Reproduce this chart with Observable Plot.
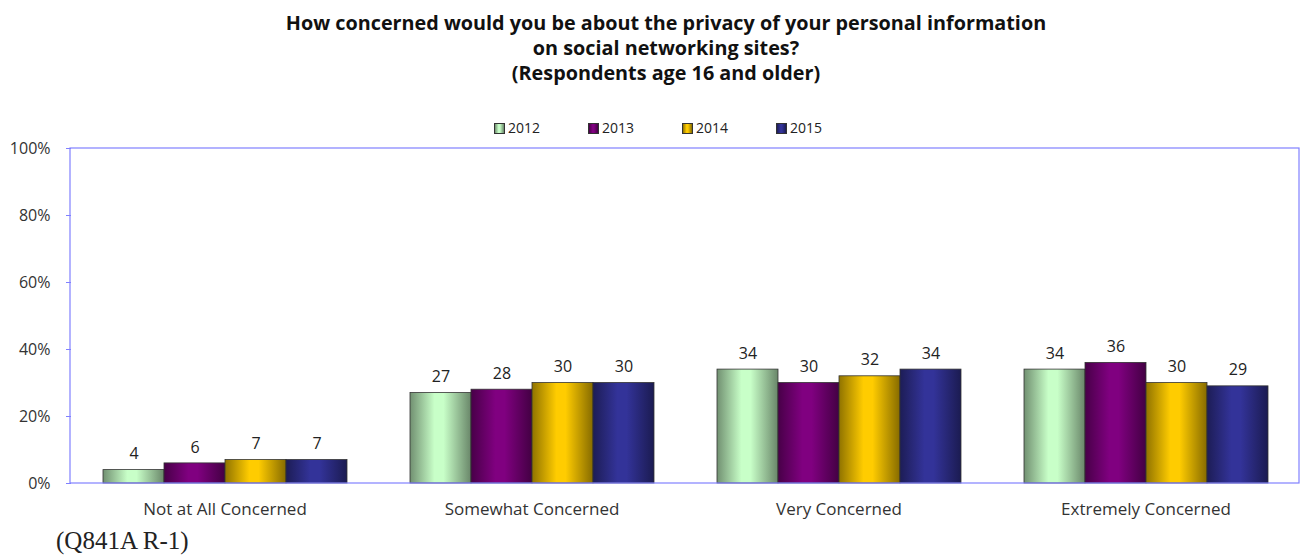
<!DOCTYPE html>
<html>
<head>
<meta charset="utf-8">
<script src="https://cdn.jsdelivr.net/npm/d3@7"></script>
<script src="https://cdn.jsdelivr.net/npm/@observablehq/plot@0.6"></script>
<style>
  html, body { margin: 0; padding: 0; background: #fff; }
  body { width: 1306px; height: 555px; position: relative; overflow: hidden; font-family: "Open Sans", sans-serif; }
  #title { position: absolute; left: 0; top: 10px; width: 1332px; text-align: center; font-weight: bold; font-size: 19.8px; line-height: 25px; color: #111; }
  #legend { position: absolute; left: 494px; top: 118px; display: flex; font-size: 14px; color: #222; line-height: 20px; }
  .item { width: 94px; display: flex; align-items: center; white-space: nowrap; }
  .sw { width: 9px; height: 9px; border: 1px solid #333; margin-right: 3px; flex: none; }
  #chart { position: absolute; left: 0; top: 130px; }
  #foot { position: absolute; left: 56px; top: 528px; font-family: "Liberation Serif", serif; font-size: 25px; line-height: 1; color: #222; white-space: nowrap; }
</style>
</head>
<body>
<div id="title">How concerned would you be about the privacy of your personal information<br>on social networking sites?<br>(Respondents age 16 and older)</div>
<div id="legend"></div>
<div id="chart"></div>
<div id="foot">(Q841A R-1)</div>
<script>
const categories = ["Not at All Concerned", "Somewhat Concerned", "Very Concerned", "Extremely Concerned"];
const years = ["2012", "2013", "2014", "2015"];
const values2012 = [4, 27, 34, 34];
const values2013 = [6, 28, 30, 36];
const values2014 = [7, 30, 32, 30];
const values2015 = [7, 30, 34, 29];
const yTicks = [0, 20, 40, 60, 80, 100];

const baseColors = {"2012": "#c8ffc8", "2013": "#800080", "2014": "#ffcc00", "2015": "#333399"};
const series = {"2012": values2012, "2013": values2013, "2014": values2014, "2015": values2015};

const data = [];
categories.forEach((c, i) => years.forEach(y => data.push({category: c, year: y, value: series[y][i]})));

const gid = y => "grad" + y;

const plot = Plot.plot({
  width: 1306,
  height: 392,
  marginLeft: 70,
  marginRight: 7,
  marginTop: 18,
  marginBottom: 39,
  style: {fontFamily: "Open Sans, sans-serif", background: "transparent", overflow: "visible"},
  fx: {domain: categories, padding: 0, label: null},
  x: {domain: years, paddingInner: 0, paddingOuter: 0.5, axis: null},
  y: {domain: [0, 100], axis: null},
  marks: [
    Plot.axisY({ticks: yTicks, tickFormat: d => d + "%", tickSize: 5, tickPadding: 16, stroke: "#8080ff", fill: "#333", fontSize: 16, label: null}),
    Plot.axisFx({anchor: "bottom", tickSize: 0, tickPadding: 19, fill: "#333", fontSize: 17, label: null}),
    ...years.map(y => Plot.barY(data.filter(d => d.year === y), {fx: "category", x: "year", y: "value", fill: `url(#${gid(y)})`, stroke: "#333", strokeWidth: 0.8})),
    Plot.text(data, {fx: "category", x: "year", y: "value", text: d => String(d.value), dy: -16, fill: "#222", fontSize: 16})
  ]
});

// gradient defs for the cylinder-like shading
const svg = d3.select(plot);
const defs = svg.insert("defs", ":first-child");
years.forEach(y => {
  const c = d3.color(baseColors[y]);
  const g = defs.append("linearGradient").attr("id", gid(y)).attr("x1", 0).attr("x2", 1).attr("y1", 0).attr("y2", 0);
  g.append("stop").attr("offset", "0%").attr("stop-color", c.darker(1.6));
  g.append("stop").attr("offset", "40%").attr("stop-color", c);
  g.append("stop").attr("offset", "55%").attr("stop-color", c);
  g.append("stop").attr("offset", "100%").attr("stop-color", c.darker(1.8));
});

// plot frame drawn from the y scale
const ys = plot.scale("y");
svg.append("rect")
  .attr("x", 70)
  .attr("y", ys.apply(100))
  .attr("width", 1306 - 70 - 7)
  .attr("height", ys.apply(0) - ys.apply(100))
  .attr("fill", "none")
  .attr("stroke", "#8080ff")
  .attr("stroke-width", 1.2);

document.getElementById("chart").appendChild(plot);

// legend
const legend = d3.select("#legend");
years.forEach(y => {
  const c = d3.color(baseColors[y]);
  const it = legend.append("div").attr("class", "item");
  it.append("div").attr("class", "sw").style("background", `linear-gradient(to right, ${c.darker(1.6)}, ${c} 40%, ${c} 55%, ${c.darker(1.8)})`);
  it.append("span").text(y);
});
</script>
</body>
</html>
